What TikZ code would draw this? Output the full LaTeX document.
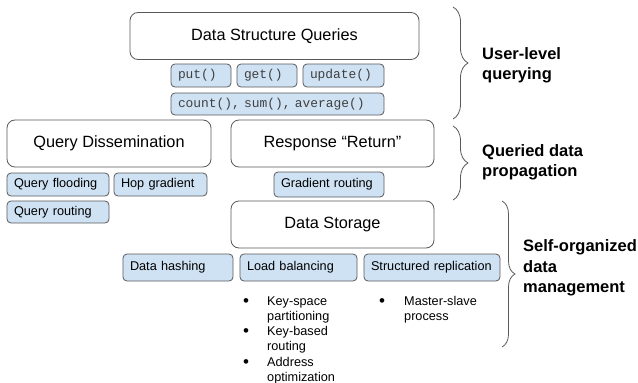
\documentclass[tikz,border=0pt]{standalone}
\usepackage{fontspec}
\setmainfont{Liberation Sans}
\setmonofont{Liberation Mono}
\usepackage{xcolor}
\usepackage{tikz}
\usetikzlibrary{decorations.pathreplacing}
\definecolor{boxgray}{HTML}{595959}
\definecolor{techblue}{HTML}{CFE2F3}
\tikzset{>=latex}
\tikzstyle{layer} = [draw = boxgray, fill = white, rounded corners = 8pt, line width = 0.8pt, minimum height = 47pt, font = \fontsize{16.3}{19}\selectfont]
\tikzstyle{tech} = [draw = boxgray, fill = techblue, rounded corners = 4pt, line width = 0.8pt, inner xsep = 7pt, inner ysep = 0pt, align = left, minimum height = 24pt, font = \fontsize{12.7}{15}\selectfont]
\tikzstyle{call} = [tech, text = black!75, font = \ttfamily\fontsize{12.9}{15}\selectfont]
\tikzstyle{item} = [inner sep = 0, anchor = base west, align = left, font = \fontsize{12.7}{15}\selectfont]
\tikzstyle{dot} = [inner sep = 0, anchor = base, font = \fontsize{17}{17}\selectfont]
\tikzstyle{layerbrace} = [draw = boxgray, line width = 0.8pt, decorate, decoration = {brace, amplitude = 15pt}]
\tikzstyle{layername} = [inner sep = 0, anchor = west, align = left, font = \bfseries\fontsize{16.5}{20.5}\selectfont]

\begin{document}
\begin{tikzpicture}[x = 1pt, y = -1pt]
\useasboundingbox (0, 0) rectangle (638, 383);
% user-level querying
\node [layer, minimum width = 289pt] (DSQ) at (274.5, 36) {Data Structure Queries};
\node [call, text width = 46pt, minimum height = 23pt] (put) at (201, 75.5) {put()};
\node [call, text width = 46pt, minimum height = 23pt] (get) at (267, 75.5) {get()};
\node [call, text width = 67pt, minimum height = 23pt] (upd) at (343.5, 75.5) {update()};
\node [call, text width = 199pt, minimum height = 22pt] (agg) at (277.5, 104) {count(), sum(), average()};
% queried data propagation
\node [layer, minimum width = 204pt] (QD) at (109, 143.5) {Query Dissemination};
\node [layer, minimum width = 203pt] (RR) at (332.5, 143.5) {Response ``Return''};
\node [tech, text width = 88pt, minimum height = 23pt] (flood) at (58, 184.5) {Query flooding};
\node [tech, text width = 79pt, minimum height = 23pt] (hop) at (160.5, 184.5) {Hop gradient};
\node [tech, text width = 88pt, minimum height = 22pt] (qroute) at (58, 212) {Query routing};
\node [tech, text width = 96pt, minimum height = 25pt] (grad) at (329, 184.5) {Gradient routing};
% self-organized data management
\node [layer, minimum width = 203pt] (DS) at (332.5, 224.5) {Data Storage};
\node [tech, text width = 96pt, minimum height = 27pt] (hash) at (178, 267.5) {Data hashing};
\node [tech, text width = 103pt, minimum height = 27pt] (lb) at (298.5, 267.5) {Load balancing};
\node [tech, text width = 122pt, minimum height = 27pt] (rep) at (432, 267.5) {Structured replication};
\node [dot] (d1) at (246, 306.5) {\textbullet};
\node [item] (ksp) at (267, 320) {Key-space\\partitioning};
\node [dot] (d2) at (246, 336.5) {\textbullet};
\node [item] (kbr) at (267, 350) {Key-based\\routing};
\node [dot] (d3) at (246, 367.5) {\textbullet};
\node [item] (addr) at (267, 381) {Address\\optimization};
\node [dot] (d4) at (382, 306.5) {\textbullet};
\node [item] (msp) at (404, 320) {Master-slave\\process};
% braces and layer names
\coordinate (b1a) at (453, 7);
\coordinate (b1b) at (453, 119);
\coordinate (b2a) at (453, 126);
\coordinate (b2b) at (453, 200);
\coordinate (b3a) at (502, 201);
\coordinate (b3b) at (502, 347);
\draw [layerbrace] (b1a) -- (b1b);
\draw [layerbrace] (b2a) -- (b2b);
\draw [layerbrace, decoration = {amplitude = 13pt}] (b3a) -- (b3b);
\node [layername] (ulq) at (482, 65.5) {User-level\\querying};
\node [layername] (qdp) at (482, 162.5) {Queried data\\propagation};
\node [layername] (som) at (523, 268) {Self-organized\\data\\management};
\end{tikzpicture}
\end{document}
